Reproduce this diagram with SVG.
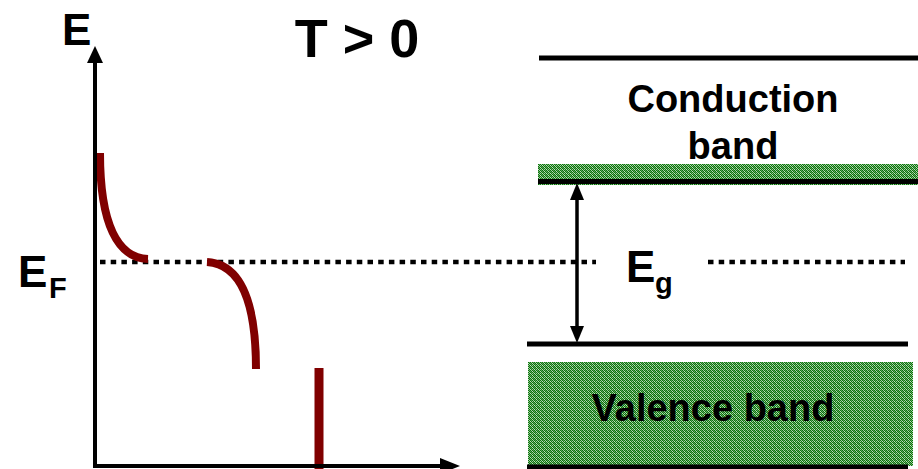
<svg xmlns="http://www.w3.org/2000/svg" width="918" height="469" viewBox="0 0 918 469">
<style>
.t{font-family:"Liberation Sans",Arial,sans-serif;font-weight:bold;fill:#000}
.red{fill:none;stroke:#800000;stroke-width:8}
.dot{stroke:#000;stroke-width:4.5;stroke-dasharray:5.5 5.2}
.blk{stroke:#000;stroke-width:5}
</style>
<defs>
<pattern id="grn" width="4" height="4" patternUnits="userSpaceOnUse">
<rect width="4" height="4" fill="#0b740b"/>
<rect x="1" y="0" width="1" height="1" fill="#a2cca2"/>
<rect x="3" y="0" width="1" height="1" fill="#5fa45f"/>
<rect x="0" y="1" width="1" height="1" fill="#a2cca2"/>
<rect x="2" y="1" width="1" height="1" fill="#c0e0c0"/>
<rect x="1" y="2" width="1" height="1" fill="#5fa45f"/>
<rect x="3" y="2" width="1" height="1" fill="#a2cca2"/>
<rect x="0" y="3" width="1" height="1" fill="#c0e0c0"/>
<rect x="2" y="3" width="1" height="1" fill="#5fa45f"/>
</pattern>
</defs>
<rect width="918" height="469" fill="#fff"/>
<g id="title"><text class="t" x="357" y="57" font-size="54" text-anchor="middle">T &gt; 0</text></g>
<g id="axis-labels">
<text class="t" x="62" y="45" font-size="44">E</text>
<text class="t" x="18" y="287" font-size="44">E</text>
<text class="t" x="49" y="298" font-size="29">F</text>
</g>
<g id="fermi-line">
<line class="dot" x1="100" y1="262" x2="596" y2="262"/>
<line class="dot" x1="708" y1="262" x2="905" y2="262"/>
</g>
<g id="distribution">
<path class="red" d="M100,153 C100,225 118,258 148,259"/>
<path class="red" d="M207,262 C240,264 256,300 256,369"/>
<line x1="319" y1="368" x2="319" y2="469" stroke="#800000" stroke-width="9"/>
</g>
<g id="conduction-band">
<line class="blk" x1="539" y1="58" x2="918" y2="58"/>
<rect x="538" y="164" width="380" height="21" fill="url(#grn)"/>
<line class="blk" x1="538" y1="181.5" x2="918" y2="181.5"/>
<text class="t" x="733" y="112" font-size="38" text-anchor="middle">Conduction</text>
<text class="t" x="733" y="159" font-size="38" text-anchor="middle">band</text>
</g>
<g id="gap-label">
<text class="t" x="626" y="282" font-size="44">E</text>
<text class="t" x="655" y="293" font-size="29">g</text>
</g>
<g id="valence-band">
<line class="blk" x1="527" y1="344" x2="908" y2="344"/>
<rect x="528" y="362" width="385" height="104" fill="url(#grn)"/>
<line class="blk" x1="527" y1="467" x2="908" y2="467"/>
<text class="t" x="713" y="421" font-size="38" text-anchor="middle">Valence band</text>
</g>
<g id="connectors">
<line x1="95" y1="60" x2="95" y2="468" stroke="#000" stroke-width="4"/>
<polygon points="95,46 87,63 103,63" fill="#000"/>
<line x1="93" y1="466" x2="442" y2="466" stroke="#000" stroke-width="4"/>
<polygon points="440,458 460,466 440,474" fill="#000"/>
<line x1="577" y1="196" x2="577" y2="330" stroke="#000" stroke-width="3.5"/>
<polygon points="577,183 570,200 584,200" fill="#000"/>
<polygon points="577,343 570,326 584,326" fill="#000"/>
</g>
</svg>
